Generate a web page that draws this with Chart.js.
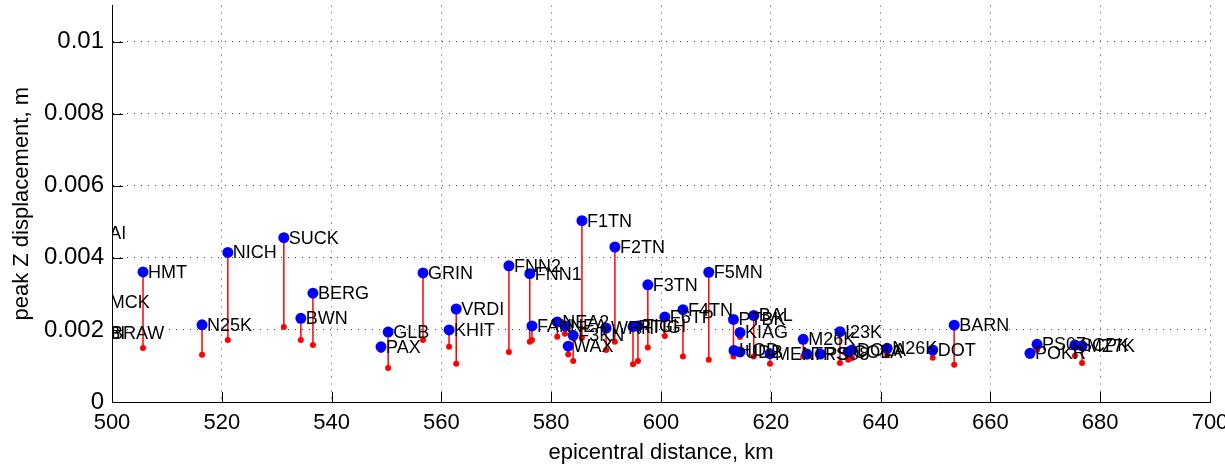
<!DOCTYPE html>
<html>
<head>
<meta charset="utf-8">
<script src="https://cdn.jsdelivr.net/npm/chart.js@4.4.0/dist/chart.umd.min.js"></script>
<style>
  html, body { margin: 0; padding: 0; background: #fff; }
  #wrap { width: 1225px; height: 472px; }
</style>
</head>
<body>
<div id="wrap"><canvas id="dispChart"></canvas></div>
<script>
// station names, epicentral distance (km), peak Z displacement (m) and the lower red value
const stations = ["KAI", "ABI", "MCK", "BRAW", "HMT", "N25K", "NICH", "SUCK", "BWN", "BERG",
  "PAX", "GLB", "GRIN", "KHIT", "VRDI", "FNN2", "FNN1", "FAN", "NEA2", "NEA",
  "WAX", "F3KN", "F1TN", "WRH", "F2TN", "RTIG", "TIGH", "F3TN", "F6TP", "F4TN",
  "F5MN", "PTBK", "KIAG", "HOD", "UDB", "BAL", "MEN", "M26K", "TRS", "PS08",
  "I23K", "COLA", "DOLA", "N26K", "DOT", "BARN", "POKR", "PS07", "SCPK", "MZ7K"];
const distKm = [496.4, 496.2, 498.7, 498.9, 505.65, 516.4, 521.1, 531.3, 534.4, 536.6,
  549.0, 550.3, 556.65, 561.4, 562.7, 572.3, 576.1, 576.5, 581.1, 582.5,
  583.1, 584.0, 585.6, 590.0, 591.6, 594.9, 595.8, 597.6, 600.7, 604.0,
  608.7, 613.2, 614.4, 613.3, 614.4, 616.9, 619.85, 625.9, 626.6, 629.0,
  632.6, 634.1, 634.8, 641.2, 649.5, 653.4, 667.2, 668.5, 675.4, 676.7];
const peakZ = [0.00469, 0.00192, 0.00278, 0.00192, 0.00361, 0.00214, 0.00415, 0.00456, 0.00232, 0.00302,
  0.00153, 0.00194, 0.00358, 0.00200, 0.00258, 0.00378, 0.00356, 0.00211, 0.00222, 0.00211,
  0.00155, 0.00185, 0.00503, 0.00205, 0.00430, 0.00209, 0.00211, 0.00325, 0.00236, 0.00256,
  0.00360, 0.00229, 0.00193, 0.00143, 0.00139, 0.00240, 0.00134, 0.00174, 0.00133, 0.00133,
  0.00195, 0.00139, 0.00144, 0.00149, 0.00144, 0.00213, 0.00135, 0.00160, 0.00158, 0.00156];
const lowZ = [0.00280, 0.00140, 0.00180, 0.00150, 0.00150, 0.00131, 0.00172, 0.00208, 0.00172, 0.00158,
  0.00144, 0.00094, 0.00172, 0.00153, 0.00106, 0.00139, 0.00167, 0.00172, 0.00181, 0.00189,
  0.00132, 0.00114, 0.00178, 0.00144, 0.00167, 0.00105, 0.00114, 0.00151, 0.00183, 0.00126,
  0.00117, 0.00126, 0.00180, 0.00136, 0.00133, 0.00126, 0.00106, 0.00126, 0.00126, 0.00128,
  0.00108, 0.00117, 0.00122, 0.00131, 0.00123, 0.00103, 0.00128, 0.00144, 0.00128, 0.00108];

const xTicks = [500, 520, 540, 560, 580, 600, 620, 640, 660, 680, 700];
const yTicks = [0, 0.002, 0.004, 0.006, 0.008, 0.01];
const yTickLabels = ["0", "0.002", "0.004", "0.006", "0.008", "0.01"];

const FONT = '"Liberation Sans", Arial, sans-serif';

// red stems: blue point -> red point, broken by a null between stations
const stems = [];
distKm.forEach((x, i) => {
    stems.push({ x: x, y: peakZ[i] });
    stems.push({ x: x, y: lowZ[i] });
    stems.push({ x: x, y: null });
});

// MATLAB style inward tick marks on the left and bottom axes
const innerTicks = {
    id: 'innerTicks',
    afterDatasetsDraw(chart) {
        const { ctx, chartArea: a, scales: { x, y } } = chart;
        ctx.save();
        ctx.strokeStyle = '#000';
        ctx.lineWidth = 1;
        ctx.beginPath();
        xTicks.forEach(v => {
            const px = Math.round(x.getPixelForValue(v)) + 0.5;
            ctx.moveTo(px, a.bottom);
            ctx.lineTo(px, a.bottom - 10);
        });
        yTicks.forEach(v => {
            const py = Math.round(y.getPixelForValue(v)) + 0.5;
            ctx.moveTo(a.left, py);
            ctx.lineTo(a.left + 11, py);
        });
        ctx.stroke();
        ctx.restore();
    }
};

// station names beside the blue points, clipped to the axes
const stationLabels = {
    id: 'stationLabels',
    afterDraw(chart) {
        const { ctx, chartArea: a } = chart;
        const pts = chart.getDatasetMeta(0).data;
        ctx.save();
        ctx.beginPath();
        ctx.rect(a.left, a.top, a.right - a.left, a.bottom - a.top);
        ctx.clip();
        ctx.font = '18px ' + FONT;
        ctx.fillStyle = '#000';
        ctx.textBaseline = 'middle';
        ctx.textAlign = 'left';
        pts.forEach((p, i) => ctx.fillText(stations[i], p.x + 5, p.y + 1));
        ctx.restore();
    }
};

new Chart(document.getElementById('dispChart'), {
    type: 'scatter',
    data: {
        datasets: [
            {
                label: 'peak Z',
                data: distKm.map((x, i) => ({ x: x, y: peakZ[i] })),
                pointRadius: 5.5,
                pointBackgroundColor: '#0000ff',
                pointBorderWidth: 0,
                order: 1
            },
            {
                label: 'low',
                data: distKm.map((x, i) => ({ x: x, y: lowZ[i] })),
                pointRadius: 3,
                pointBackgroundColor: '#ff0000',
                pointBorderWidth: 0,
                order: 2
            },
            {
                type: 'line',
                label: 'stems',
                data: stems,
                borderColor: '#ff0000',
                borderWidth: 1.5,
                pointRadius: 0,
                spanGaps: false,
                order: 3
            }
        ]
    },
    options: {
        responsive: true,
        maintainAspectRatio: false,
        animation: false,
        layout: { padding: { top: 5, right: 15, left: 0, bottom: 0 } },
        plugins: { legend: { display: false }, tooltip: { enabled: false } },
        scales: {
            x: {
                type: 'linear',
                min: 500,
                max: 700,
                afterBuildTicks: s => { s.ticks = xTicks.map(v => ({ value: v })); },
                afterFit: s => { s.height = 70; s.paddingLeft = 0; s.paddingRight = 0; },
                ticks: { color: '#000', font: { family: FONT, size: 22 }, padding: 8, maxRotation: 0 },
                grid: { color: '#444', lineWidth: 1, drawTicks: false },
                border: { display: true, color: '#000', width: 1, dash: [1, 6] },
                title: {
                    display: true,
                    text: 'epicentral distance, km',
                    color: '#000',
                    font: { family: FONT, size: 22 },
                    padding: { top: 0, bottom: 6 }
                }
            },
            y: {
                type: 'linear',
                min: 0,
                max: 0.011,
                afterBuildTicks: s => { s.ticks = yTicks.map(v => ({ value: v })); },
                afterFit: s => { s.width = 112; s.paddingTop = 0; s.paddingBottom = 0; },
                ticks: {
                    color: '#000',
                    font: { family: FONT, size: 24 },
                    padding: 8,
                    callback: (v, i) => yTickLabels[i]
                },
                grid: { color: '#444', lineWidth: 1, drawTicks: false },
                border: { display: true, color: '#000', width: 1, dash: [1, 6] },
                title: {
                    display: true,
                    text: 'peak Z displacement, m',
                    color: '#000',
                    font: { family: FONT, size: 22 },
                    padding: { top: 9, bottom: 0 }
                }
            }
        }
    },
    plugins: [innerTicks, stationLabels]
});
</script>
</body>
</html>
